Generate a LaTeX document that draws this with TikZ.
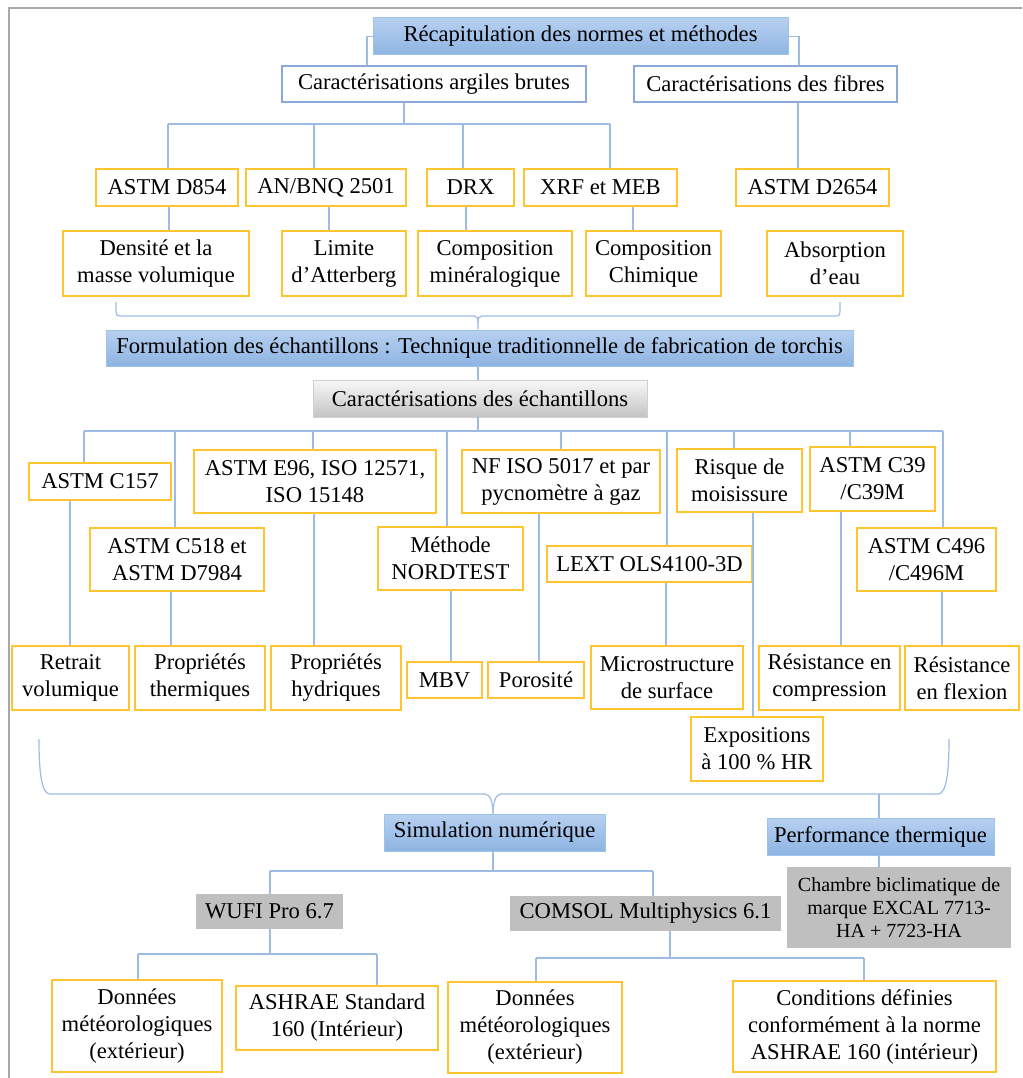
\documentclass[tikz,border=0pt]{standalone}
\usepackage{fontspec}
\setmainfont{Liberation Serif}
\definecolor{conc}{HTML}{9DBBE5}
\definecolor{ybor}{HTML}{FFC42E}
\definecolor{wbor}{HTML}{8EA9DB}
\definecolor{bbor}{HTML}{9DC3E6}
\definecolor{btop}{HTML}{B7D0F0}
\definecolor{bbot}{HTML}{8DB4E2}
\definecolor{gfill}{HTML}{BFBFBF}
\definecolor{ggtop}{HTML}{F8F8F8}
\definecolor{ggbot}{HTML}{C4C4C4}
\definecolor{ggbor}{HTML}{D0D0D0}
\definecolor{framec}{HTML}{A8A8A8}
\newcommand\bx[7]{%
  \pgfmathsetmacro\bw{#4-#2}\pgfmathsetmacro\bh{#5-#3}%
  \node[#6,minimum width=\bw pt,minimum height=\bh pt] (#1) at ({(#2+#4)/2},{(#3+#5)/2}) {#7};}
\begin{document}
\begin{tikzpicture}[x=1pt,y=-1pt,
  every node/.style={font=\fontsize{22.6}{27}\selectfont, inner sep=0pt, align=center, text=black},
  con/.style={draw=conc, line width=1.2pt},
  yb/.style={draw=ybor, line width=1.6pt, fill=white},
  wb/.style={draw=wbor, line width=1.4pt, fill=white},
  bb/.style={draw=bbor, line width=1pt, top color=btop, bottom color=bbot},
  gb/.style={fill=gfill},
  gg/.style={draw=ggbor, line width=0.8pt, top color=ggtop, bottom color=ggbot},
]
\useasboundingbox (0,0) rectangle (1022,1078);
\fill[white] (0,0) rectangle (1022,1078);
\draw[framec, line width=2pt] (9,1078) -- (9,8) -- (1022,8);

\bx{recap}{373}{18}{788}{55}{bb}{Récapitulation des normes et méthodes}
\bx{argil}{282}{66}{586}{102}{wb}{Caractérisations argiles brutes}
\bx{fibres}{634}{66}{897}{102}{wb}{Caractérisations des fibres}
\bx{d854}{96}{169}{238}{206}{yb}{ASTM D854}
\bx{bnq}{246}{169}{406}{206}{yb}{AN/BNQ 2501}
\bx{drx}{427}{169}{514}{206}{yb}{DRX}
\bx{xrf}{524}{169}{677}{206}{yb}{XRF et MEB}
\bx{d2654}{736}{169}{889}{206}{yb}{ASTM D2654}
\bx{dens}{63}{231}{249}{296}{yb}{Densité et la\\masse volumique}
\bx{lim}{282}{231}{406}{296}{yb}{Limite\\d’Atterberg}
\bx{cmin}{418}{231}{572}{296}{yb}{Composition\\minéralogique}
\bx{cchi}{586}{231}{721}{296}{yb}{Composition\\Chimique}
\bx{abs}{767}{231}{903}{296}{yb}{Absorption\\d’eau}
\bx{form}{106}{330}{853}{366}{bb}{Formulation des échantillons : Technique traditionnelle de fabrication de torchis}
\bx{care}{313}{380}{647}{417}{gg}{Caractérisations des échantillons}
\bx{c157}{29}{463}{171}{500}{yb}{ASTM C157}
\bx{c518}{90}{528}{264}{591}{yb}{ASTM C518 et\\ASTM D7984}
\bx{e96}{194}{450}{436}{513}{yb}{ASTM E96, ISO 12571,\\ISO 15148}
\bx{nf}{462}{450}{660}{513}{yb}{NF ISO 5017 et par\\pycnomètre à gaz}
\bx{nord}{378}{527}{523}{590}{yb}{Méthode\\NORDTEST}
\bx{lext}{547}{546}{752}{582}{yb}{LEXT OLS4100-3D}
\bx{risq}{677}{449}{802}{512}{yb}{Risque de\\moisissure}
\bx{c39}{810}{447}{935}{511}{yb}{ASTM C39\\/C39M}
\bx{c496}{857}{528}{996}{591}{yb}{ASTM C496\\/C496M}
\bx{retr}{12}{646}{129}{710}{yb}{Retrait\\volumique}
\bx{pth}{135}{646}{265}{710}{yb}{Propriétés\\thermiques}
\bx{phy}{271}{646}{401}{710}{yb}{Propriétés\\hydriques}
\bx{mbv}{407}{662}{482}{698}{yb}{MBV}
\bx{por}{488}{662}{584}{698}{yb}{Porosité}
\bx{micro}{591}{646}{743}{709}{yb}{Microstructure\\de surface}
\bx{rcomp}{759}{646}{900}{710}{yb}{Résistance en\\compression}
\bx{rflex}{905}{646}{1019}{710}{yb}{Résistance\\en flexion}
\bx{expo}{691}{717}{823}{781}{yb}{Expositions\\à 100 \% HR}
\bx{simu}{384}{814}{605}{851}{bb}{Simulation numérique}
\bx{perf}{767}{818}{994}{855}{bb}{Performance thermique}
\bx{chamb}{787}{867}{1011}{948}{gb,font=\fontsize{20}{23}\selectfont}{Chambre biclimatique de\\marque EXCAL 7713-\\HA + 7723-HA}
\bx{wufi}{196}{894}{343}{929}{gb}{WUFI Pro 6.7}
\bx{comsol}{510}{896}{781}{931}{gb}{COMSOL Multiphysics 6.1}
\bx{don1}{52}{980}{222}{1072}{yb}{Données\\météorologiques\\(extérieur)}
\bx{ash}{236}{986}{438}{1050}{yb}{ASHRAE Standard\\160 (Intérieur)}
\bx{don2}{448}{982}{622}{1073}{yb}{Données\\météorologiques\\(extérieur)}
\bx{cond}{733}{981}{996}{1072}{yb}{Conditions définies\\conformément à la norme\\ASHRAE 160 (intérieur)}

% top level
\draw[con] (recap.west) -- (367,36.5) -- (argil.north -| 367,0);
\draw[con] (recap.east) -- (799,36.5) -- (fibres.north -| 799,0);
% argiles bus
\draw[con] (argil.south -| 404,0) -- (404,124);
\draw[con] (168,124) -- (610,124);
\draw[con] (168,124) -- (d854.north -| 168,0);
\draw[con] (314,124) -- (bnq.north -| 314,0);
\draw[con] (463,124) -- (drx.north -| 463,0);
\draw[con] (610,124) -- (xrf.north -| 610,0);
\draw[con] (fibres.south -| 798,0) -- (d2654.north -| 798,0);
\draw[con] (d854.south -| 169,0) -- (dens.north -| 169,0);
\draw[con] (bnq.south -| 329,0) -- (lim.north -| 329,0);
\draw[con] (drx.south -| 466,0) -- (cmin.north -| 466,0);
\draw[con] (xrf.south -| 633,0) -- (cchi.north -| 633,0);
% brace 1
\draw[con] (116,302) -- (116,312) .. controls (116,315) and (117,316) .. (120,316) -- (474,316)
  .. controls (477,316) and (478,318) .. (478,322) -- (form.north -| 478,0);
\draw[con] (840,302) -- (840,312) .. controls (840,315) and (839,316) .. (836,316) -- (482,316)
  .. controls (479,316) and (478,318) .. (478,322);
\draw[con] (form.south -| 478,0) -- (care.north -| 478,0);
% echantillons bus
\draw[con] (care.south -| 478,0) -- (478,431);
\draw[con] (84,431) -- (943,431);
\draw[con] (84,431) -- (c157.north -| 84,0);
\draw[con] (175,431) -- (c518.north -| 175,0);
\draw[con] (313,431) -- (e96.north -| 313,0);
\draw[con] (447,431) -- (nord.north -| 447,0);
\draw[con] (561,431) -- (nf.north -| 561,0);
\draw[con] (667,431) -- (lext.north -| 667,0);
\draw[con] (734,431) -- (risq.north -| 734,0);
\draw[con] (850,431) -- (c39.north -| 850,0);
\draw[con] (943,431) -- (c496.north -| 943,0);
\draw[con] (c157.south -| 70,0) -- (retr.north -| 70,0);
\draw[con] (c518.south -| 171,0) -- (pth.north -| 171,0);
\draw[con] (e96.south -| 314,0) -- (phy.north -| 314,0);
\draw[con] (nord.south -| 451,0) -- (mbv.north -| 451,0);
\draw[con] (nf.south -| 539,0) -- (por.north -| 539,0);
\draw[con] (lext.south -| 666,0) -- (micro.north -| 666,0);
\draw[con] (risq.south -| 753,0) -- (expo.north -| 753,0);
\draw[con] (c39.south -| 841,0) -- (rcomp.north -| 841,0);
\draw[con] (c496.south -| 942,0) -- (rflex.north -| 942,0);
% brace 2
\draw[con] (39,739) .. controls (39,775) and (42,794) .. (50,794) -- (485,794)
  .. controls (490,794) and (493,802) .. (simu.north -| 493,0);
\draw[con] (949,739) .. controls (949,775) and (946,794) .. (938,794) -- (501,794)
  .. controls (496,794) and (493,802) .. (simu.north -| 493,0);
\draw[con] (879,794) -- (perf.north -| 879,0);
\draw[con] (perf.south -| 879,0) -- (chamb.north -| 879,0);
% simulation
\draw[con] (simu.south -| 493,0) -- (493,871);
\draw[con] (270,871) -- (653,871);
\draw[con] (270,871) -- (wufi.north -| 270,0);
\draw[con] (653,871) -- (comsol.north -| 653,0);
\draw[con] (wufi.south -| 270,0) -- (270,954);
\draw[con] (138,954) -- (377,954);
\draw[con] (138,954) -- (don1.north -| 138,0);
\draw[con] (377,954) -- (ash.north -| 377,0);
\draw[con] (comsol.south -| 670,0) -- (670,958);
\draw[con] (536,958) -- (864,958);
\draw[con] (536,958) -- (don2.north -| 536,0);
\draw[con] (864,958) -- (cond.north -| 864,0);
\end{tikzpicture}
\end{document}
